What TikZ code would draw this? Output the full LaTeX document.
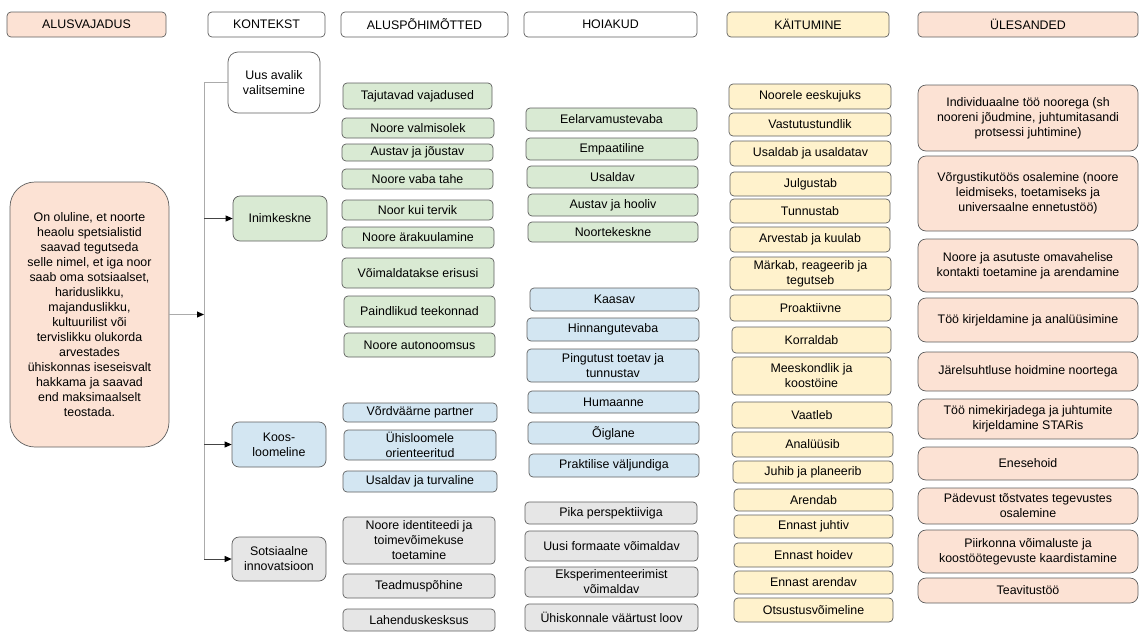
\documentclass[tikz,border=0pt]{standalone}
\usepackage{fontspec}
\setmainfont{Liberation Sans}
\usetikzlibrary{arrows.meta}
\definecolor{peach}{HTML}{FCE2D4}
\definecolor{green3}{HTML}{D9EAD3}
\definecolor{blue3}{HTML}{D3E6F2}
\definecolor{gray3}{HTML}{E6E6E6}
\definecolor{yellow3}{HTML}{FFF2CC}
\definecolor{bordc}{HTML}{5F5F5F}
\definecolor{linec}{HTML}{ABABAB}
\definecolor{darkl}{HTML}{444444}
\tikzset{
  bx/.style={draw=bordc, line width=0.7pt, rounded corners=4pt, align=center, inner sep=1pt,
    font=\fontsize{12.4}{15}\selectfont},
  gline/.style={draw=linec, line width=0.9pt},
  arr/.style={draw=darkl, line width=0.8pt, -{Triangle[length=7pt,width=6pt,color=black]}},
  arrg/.style={draw=linec, line width=0.9pt, -{Triangle[length=7pt,width=6pt,color=black]}},
}
\newcommand\boxnode[7][]{\node[bx,#1,minimum width={#5-#3},minimum height={#6-#4}] (#2) at ({(#3+#5)/2},{(#4+#6)/2}) {#7};}
\newcommand\ubox[4]{\boxnode[fill=peach,rounded corners=8pt]{#1}{918}{#2}{1138}{#3}{#4}}
\begin{document}
\begin{tikzpicture}[x=1pt,y=-1pt]
\useasboundingbox (0,0) rectangle (1140,632);
% headers
\boxnode[fill=peach]{hA}{7}{12}{166}{37}{ALUSVAJADUS}
\boxnode[fill=white]{hK}{208}{12}{325}{37}{KONTEKST}
\boxnode[fill=white]{hP}{341}{12}{508}{37}{ALUSPÕHIMÕTTED}
\boxnode[fill=white]{hH}{524}{12}{697}{37}{HOIAKUD}
\boxnode[fill=yellow3]{hKa}{727}{12}{889}{37}{KÄITUMINE}
\boxnode[fill=peach]{hU}{918}{12}{1138}{37}{ÜLESANDED}
% need
\boxnode[fill=peach,rounded corners=25pt]{need}{10}{182}{169}{447}{On oluline, et noorte\\heaolu spetsialistid\\saavad tegutseda\\selle nimel, et iga noor\\saab oma sotsiaalset,\\hariduslikku,\\majanduslikku,\\kultuurilist või\\tervislikku olukorda\\arvestades\\ühiskonnas iseseisvalt\\hakkama ja saavad\\end maksimaalselt\\teostada.}
% context
\boxnode[fill=white,rounded corners=10pt]{k0}{228}{52}{320}{113}{Uus avalik\\valitsemine}
\boxnode[fill=green3,rounded corners=7pt]{k1}{233}{196}{327}{241}{Inimkeskne}
\boxnode[fill=blue3,rounded corners=7pt]{k2}{232}{422}{326}{467}{Koos-\\loomeline}
\boxnode[fill=gray3,rounded corners=7pt]{k3}{232}{537}{326}{581}{Sotsiaalne\\innovatsioon}
\coordinate (vt) at (204,82.5);
\coordinate (vb) at (k3.west -| vt);
\draw[gline] (vt) -- (vb);
\draw[gline] (vt) -- (k0.west);
\draw[arr] (k1.west -| vt) -- (k1.west);
\draw[arr] (k2.west -| vt) -- (k2.west);
\draw[arr] (vb) -- (k3.west);
\draw[arrg] (need.east) -- (need.east -| vt);
% ALUSPOHIMOTTED
\boxnode[fill=green3]{p1}{343}{83}{492}{109}{Tajutavad vajadused}
\boxnode[fill=green3]{p2}{342}{118}{494}{138}{Noore valmisolek}
\boxnode[fill=green3]{p3}{342}{144}{493}{161}{Austav ja jõustav}
\boxnode[fill=green3]{p4}{342}{169}{493}{189}{Noore vaba tahe}
\boxnode[fill=green3]{p5}{342}{200}{493}{220}{Noor kui tervik}
\boxnode[fill=green3]{p6}{342}{227}{494}{248}{Noore ärakuulamine}
\boxnode[fill=green3]{p7}{342}{258}{494}{288}{Võimaldatakse erisusi}
\boxnode[fill=green3]{p8}{344}{296}{495}{327}{Paindlikud teekonnad}
\boxnode[fill=green3]{p9}{344}{333}{495}{357}{Noore autonoomsus}
\boxnode[fill=blue3]{p10}{343}{403}{497}{422}{Võrdväärne partner}
\boxnode[fill=blue3]{p11}{344}{430}{496}{460}{Ühisloomele\\orienteeritud}
\boxnode[fill=blue3]{p12}{343}{471}{497}{492}{Usaldav ja turvaline}
\boxnode[fill=gray3]{p13}{343}{517}{495}{564}{Noore identiteedi ja\\toimevõimekuse\\toetamine}
\boxnode[fill=gray3]{p14}{343}{574}{495}{598}{Teadmuspõhine}
\boxnode[fill=gray3]{p15}{343}{609}{495}{631}{Lahenduskesksus}
% HOIAKUD
\boxnode[fill=green3]{h1}{526}{108}{697}{131}{Eelarvamustevaba}
\boxnode[fill=green3]{h2}{526}{138}{698}{160}{Empaatiline}
\boxnode[fill=green3]{h3}{527}{166}{698}{188}{Usaldav}
\boxnode[fill=green3]{h4}{528}{194}{698}{216}{Austav ja hooliv}
\boxnode[fill=green3]{h5}{528}{222}{698}{242}{Noortekeskne}
\boxnode[fill=blue3]{h6}{530}{288}{699}{311}{Kaasav}
\boxnode[fill=blue3]{h7}{527}{318}{699}{341}{Hinnangutevaba}
\boxnode[fill=blue3]{h8}{527}{349}{699}{382}{Pingutust toetav ja\\tunnustav}
\boxnode[fill=blue3]{h9}{528}{391}{699}{413}{Humaanne}
\boxnode[fill=blue3]{h10}{528}{422}{699}{444}{Õiglane}
\boxnode[fill=blue3]{h11}{529}{454}{699}{477}{Praktilise väljundiga}
\boxnode[fill=gray3]{h12}{525}{502}{697}{524}{Pika perspektiiviga}
\boxnode[fill=gray3]{h13}{525}{531}{698}{561}{Uusi formaate võimaldav}
\boxnode[fill=gray3]{h14}{525}{567}{698}{597}{Eksperimenteerimist\\võimaldav}
\boxnode[fill=gray3]{h15}{525}{604}{698}{631}{Ühiskonnale väärtust loov}
% KAITUMINE
\boxnode[fill=yellow3]{b1}{729}{84}{891}{109}{Noorele eeskujuks}
\boxnode[fill=yellow3]{b2}{729}{113}{891}{136}{Vastutustundlik}
\boxnode[fill=yellow3]{b3}{730}{141}{891}{166}{Usaldab ja usaldatav}
\boxnode[fill=yellow3]{b4}{730}{172}{891}{196}{Julgustab}
\boxnode[fill=yellow3]{b5}{730}{199}{890}{223}{Tunnustab}
\boxnode[fill=yellow3]{b6}{730}{227}{890}{252}{Arvestab ja kuulab}
\boxnode[fill=yellow3]{b7}{730}{257}{891}{290}{Märkab, reageerib ja\\tegutseb}
\boxnode[fill=yellow3]{b8}{730}{295}{891}{321}{Proaktiivne}
\boxnode[fill=yellow3]{b9}{732}{327}{891}{353}{Korraldab}
\boxnode[fill=yellow3]{b10}{732}{357}{891}{395}{Meeskondlik ja\\koostöine}
\boxnode[fill=yellow3]{b11}{732}{402}{892}{428}{Vaatleb}
\boxnode[fill=yellow3]{b12}{732}{432}{893}{457}{Analüüsib}
\boxnode[fill=yellow3]{b13}{733}{461}{893}{483}{Juhib ja planeerib}
\boxnode[fill=yellow3]{b14}{734}{489}{893}{511}{Arendab}
\boxnode[fill=yellow3]{b15}{734}{515}{893}{538}{Ennast juhtiv}
\boxnode[fill=yellow3]{b16}{734}{543}{893}{567}{Ennast hoidev}
\boxnode[fill=yellow3]{b17}{734}{571}{893}{594}{Ennast arendav}
\boxnode[fill=yellow3]{b18}{734}{598}{893}{622}{Otsustusvõimeline}
% ULESANDED
\ubox{u1}{85}{151}{Individuaalne töö noorega (sh\\nooreni jõudmine, juhtumitasandi\\protsessi juhtimine)}
\ubox{u2}{156}{231}{Võrgustikutöös osalemine (noore\\leidmiseks, toetamiseks ja\\universaalne ennetustöö)}
\ubox{u3}{239}{292}{Noore ja asutuste omavahelise\\kontakti toetamine ja arendamine}
\ubox{u4}{298}{342}{Töö kirjeldamine ja analüüsimine}
\ubox{u5}{352}{391}{Järelsuhtluse hoidmine noortega}
\ubox{u6}{399}{439}{Töö nimekirjadega ja juhtumite\\kirjeldamine STARis}
\ubox{u7}{447}{480}{Enesehoid}
\ubox{u8}{488}{524}{Pädevust tõstvates tegevustes\\osalemine}
\ubox{u9}{530}{573}{Piirkonna võimaluste ja\\koostöötegevuste kaardistamine}
\ubox{u10}{578}{603}{Teavitustöö}
\end{tikzpicture}
\end{document}
